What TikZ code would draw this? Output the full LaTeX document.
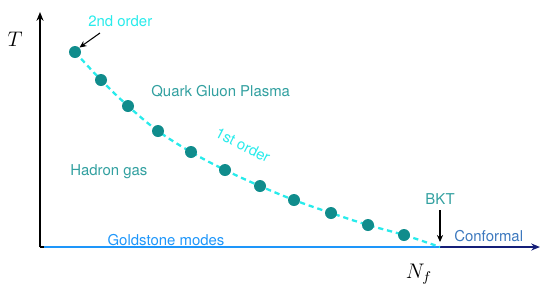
\documentclass[tikz,border=0pt]{standalone}
\usepackage{fontspec}
\setsansfont{TeX Gyre Heros}
\usetikzlibrary{arrows.meta}
\definecolor{dotteal}{RGB}{16,140,140}
\definecolor{txtteal}{RGB}{50,160,160}
\definecolor{cyanish}{RGB}{40,235,235}
\definecolor{gblue}{RGB}{30,150,250}
\definecolor{navyline}{RGB}{20,30,120}
\definecolor{confblue}{RGB}{60,120,190}
\tikzset{
  lbl/.style={font=\sffamily\fontsize{8.5}{10}\selectfont, inner sep=0pt},
  dotc/.style={circle, fill=dotteal, inner sep=0pt, minimum size=12*0.02cm},
  ptr/.style={-{Stealth[length=4pt,width=3.5pt]}, line width=0.6pt, black},
}
\begin{document}
\begin{tikzpicture}[x=0.02cm,y=-0.02cm]
\useasboundingbox (0,0) rectangle (550,299);
% axes
\coordinate (O) at (40,247);
\coordinate (Ytop) at (40,12);
\coordinate (Xs) at (44,247);
\coordinate (K) at (440,247);
\coordinate (Xe) at (540,247);
\draw[line width=0.7pt, -{Stealth[length=5pt,width=4pt]}] (O) -- (Ytop);
\draw[line width=0.7pt] (O) -- (Xs);
\draw[gblue, line width=1.3pt] (Xs) -- (K);
\draw[navyline, line width=1.3pt, -{Stealth[length=5pt,width=4pt]}] (K) -- (Xe);
% curve
\draw[cyanish, line width=1.3pt, dash pattern=on 3pt off 2.2pt]
  plot[smooth, tension=0.6] coordinates {(75,52) (101,80) (128,106) (158,131) (191,152) (225,170) (260,186) (294,200) (331,213) (368,225) (404,235) (440,247)};
% dots
\foreach \i/\x/\y in {1/75/52,2/101/80,3/128/106,4/158/131,5/191/152,6/225/170,7/260/186,8/294/200,9/331/213,10/368/225,11/404/235}
  \node[dotc] (d\i) at (\x,\y) {};
% labels
\node[font=\large, inner sep=0pt] (T) at (15,39) {$T$};
\node[font=\large, inner sep=0pt] (Nf) at (419,274) {$N_f$};
\node[lbl, text=cyanish, anchor=west] (second) at (88,21) {2nd order};
\coordinate (sa) at (100,33);
\draw[ptr] (sa) -- (d1.north east);
\node[lbl, text=txtteal, anchor=west] (qgp) at (151,91) {Quark Gluon Plasma};
\node[lbl, text=cyanish, rotate=-27] (first) at (243,145) {1st order};
\node[lbl, text=txtteal, anchor=west] (hg) at (70,172) {Hadron gas};
\node[lbl, text=txtteal] (bkt) at (440,199) {BKT};
\coordinate (ba) at (440,210);
\draw[ptr] (ba) -- ([yshift=0.1cm]K);
\node[lbl, text=confblue, anchor=west] (conf) at (454,236) {Conformal};
\node[lbl, text=gblue] (gold) at (166,240) {Goldstone modes};
\end{tikzpicture}
\end{document}
